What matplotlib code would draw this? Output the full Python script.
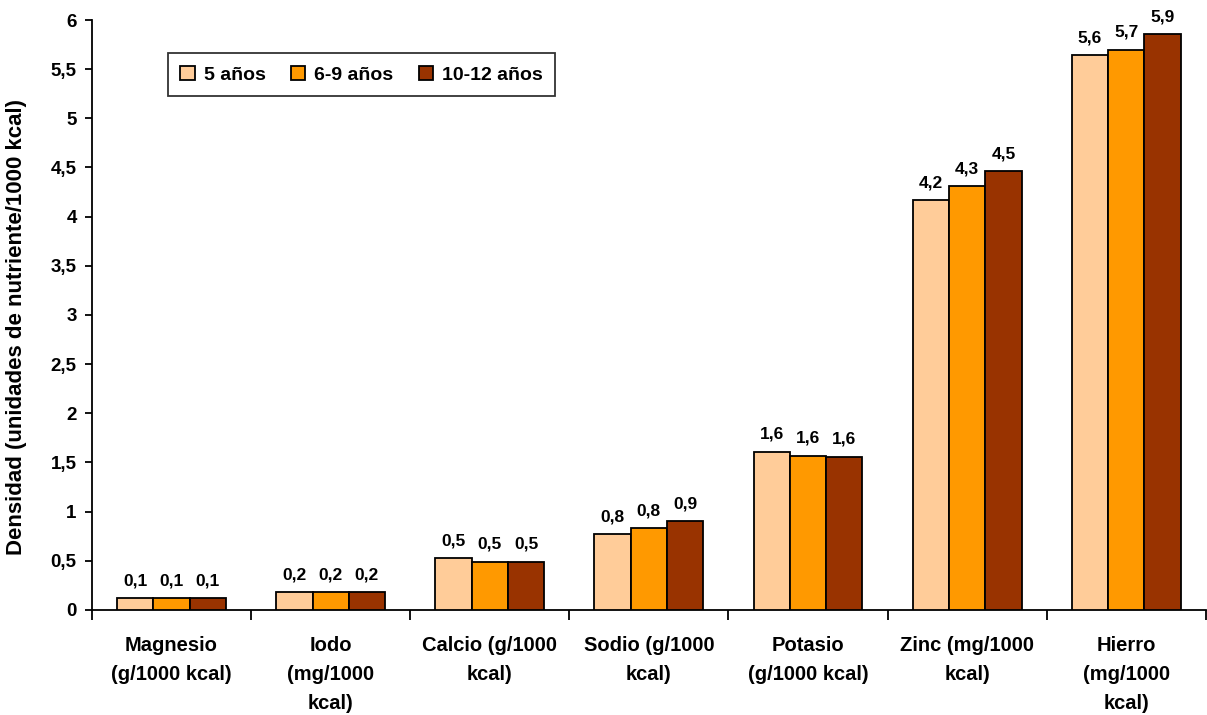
import numpy as np
import matplotlib.pyplot as plt
from matplotlib.ticker import FixedLocator, FuncFormatter

plt.rcParams["font.family"] = ["Liberation Sans", "DejaVu Sans"]
plt.rcParams["font.weight"] = "bold"

nutrientes = [
    "Magnesio\n(g/1000 kcal)",
    "Iodo\n(mg/1000\nkcal)",
    "Calcio (g/1000\nkcal)",
    "Sodio (g/1000\nkcal)",
    "Potasio\n(g/1000 kcal)",
    "Zinc (mg/1000\nkcal)",
    "Hierro\n(mg/1000\nkcal)",
]
grupos = ["5 años", "6-9 años", "10-12 años"]
colores = ["#FFCC99", "#FF9900", "#993300"]

dens_5 = [0.12, 0.18, 0.53, 0.77, 1.61, 4.17, 5.64]
dens_6_9 = [0.12, 0.18, 0.49, 0.83, 1.57, 4.31, 5.70]
dens_10_12 = [0.12, 0.18, 0.49, 0.90, 1.56, 4.46, 5.86]
series = [dens_5, dens_6_9, dens_10_12]


def coma(v, _pos=None):
    s = f"{v:g}" if _pos is not None else f"{v:.1f}"
    return s.replace(".", ",")


fig = plt.figure(figsize=(12.07, 7.15), dpi=100)
ax = fig.add_axes([0.0762, 0.147, 0.9228, 0.825])

x = np.arange(len(nutrientes))
ancho = 0.228
for i, (vals, nombre, color) in enumerate(zip(series, grupos, colores)):
    pos = x + (i - 1) * ancho
    barras = ax.bar(pos, vals, ancho, color=color, edgecolor="black",
                    linewidth=1.3, label=nombre, zorder=3)
    for b, v in zip(barras, vals):
        ax.annotate(coma(v), (b.get_x() + b.get_width() / 2, v),
                    xytext=(0, 7), textcoords="offset points",
                    ha="center", va="bottom", fontsize=12.5, fontweight="bold")

ax.set_xlim(-0.5, len(nutrientes) - 0.5)
ax.set_ylim(0, 6)

ax.yaxis.set_major_locator(FixedLocator(np.arange(0, 6.01, 0.5)))
ax.yaxis.set_major_formatter(FuncFormatter(coma))
ax.tick_params(axis="y", labelsize=13.5, length=5, width=1.3, direction="out",
               pad=6)

# etiquetas centradas en cada categoría, marcas en los límites
ax.set_xticks(np.arange(-0.5, len(nutrientes) + 0.5, 1.0))
ax.set_xticklabels([])
ax.set_xticks(x, minor=True)
ax.set_xticklabels(nutrientes, minor=True, fontsize=14.5, fontweight="bold",
                   linespacing=1.65, va="top")
ax.tick_params(axis="x", which="major", length=7, width=1.3, direction="out")
ax.tick_params(axis="x", which="minor", length=0, pad=19)

for lado in ["top", "right"]:
    ax.spines[lado].set_visible(False)
for lado in ["left", "bottom"]:
    ax.spines[lado].set_linewidth(1.3)

ax.set_ylabel("Densidad (unidades de nutriente/1000 kcal)", fontsize=16,
              fontweight="bold")
ax.yaxis.set_label_coords(-0.058, 0.48)

leg = ax.legend(loc="upper left", bbox_to_anchor=(0.068, 0.944), ncol=3,
                fontsize=14, frameon=True, fancybox=False, handlelength=0.75,
                handleheight=0.75, handletextpad=0.45, columnspacing=1.3,
                borderpad=0.65, borderaxespad=0)
leg.get_frame().set_edgecolor("black")
leg.get_frame().set_linewidth(1.3)
for t in leg.get_texts():
    t.set_fontweight("bold")

fig.savefig("out.png", dpi=100)
